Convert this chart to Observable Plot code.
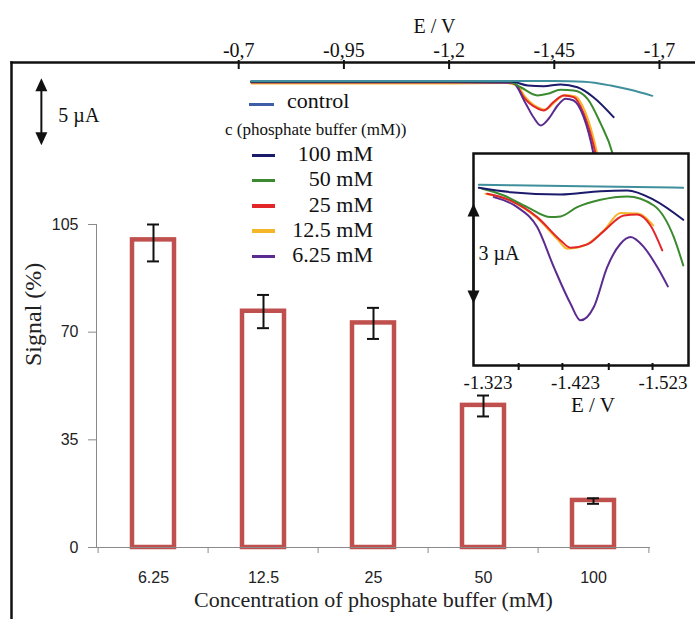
<!DOCTYPE html>
<html><head><meta charset="utf-8">
<script src="https://cdn.jsdelivr.net/npm/d3@7"></script>
<script src="https://cdn.jsdelivr.net/npm/@observablehq/plot@0.6"></script>
<style>
body{margin:0;background:#fff;}
#fig{position:relative;width:695px;height:619px;overflow:hidden;background:#fff;}
#fig > svg{position:absolute;left:0;top:0;}
.lg{position:absolute;font-family:"Liberation Serif",serif;color:#111;white-space:nowrap;}
.mk{position:absolute;height:3px;}
</style></head><body><div id="fig"></div>
<script>
// ---------- bar chart data ----------
const categories = ["6.25", "12.5", "25", "50", "100"];
const signal     = [100, 76.8, 73.0, 46.2, 15.3];
const signalLow  = [93, 71.3, 67.8, 42.6, 14.2];
const signalHigh = [105, 82.1, 77.9, 49.4, 16.0];
const signalTicks = [0, 35, 70, 105];

// ---------- voltammogram series ----------
const seriesNames  = ["control", "100 mM", "50 mM", "25 mM", "12.5 mM", "6.25 mM"];
const curveColors  = ["#3f8f9c", "#1b1a6b", "#3b8a2f", "#e3262a", "#f6b62a", "#5b2b8f"];
const legendColors = ["#3e5ca8", "#1b1a6b", "#3b8a2f", "#e3262a", "#f6b62a", "#5b2b8f"];
const drawOrder = ["12.5 mM", "25 mM", "6.25 mM", "50 mM", "100 mM", "control"];

const topTickE = [-0.7, -0.95, -1.2, -1.45, -1.7];
const topTickLabels = ["-0,7", "-0,95", "-1,2", "-1,45", "-1,7"];
const insetTickE = [-1.358, -1.408, -1.461, -1.511];
const insetLabelE = [-1.323, -1.423, -1.523];
const insetLabels = ["-1.323", "-1.423", "-1.523"];

const scaleBarMainE = -0.231;           // V
const scaleBarMain = [0.25, -4.75];     // µA (5 µA)
const scaleBarInsetE = -1.3064;         // V
const scaleBarInset = [-0.48, -3.48];   // µA (3 µA)

// overview curves [E (V), I (µA)]
const ovControl = [[-0.73,0.04],[-1.2,0.04],[-1.45,0.03],[-1.52,-0.02],[-1.584,-0.3],[-1.631,-0.62],[-1.683,-1.07]];
const ov100 = [[-0.73,0],[-1.2,0],[-1.346,0],[-1.387,-0.30],[-1.425,-0.35],[-1.465,-0.22],[-1.505,-0.43],[-1.543,-1.17],[-1.591,-2.66]];
const ov50 = [[-0.73,0],[-1.2,0],[-1.34,0],[-1.370,-0.43],[-1.410,-1.04],[-1.434,-0.92],[-1.465,-0.62],[-1.496,-0.67],[-1.529,-1.29],[-1.56,-3.13],[-1.5885,-5.37],[-1.607,-8.1]];
const ov25 = [[-0.73,-0.05],[-1.2,-0.05],[-1.335,-0.05],[-1.358,-0.22],[-1.377,-1.17],[-1.41,-2.01],[-1.425,-2.16],[-1.448,-1.54],[-1.472,-1.04],[-1.496,-1.17],[-1.52,-2.39],[-1.548,-5.37],[-1.565,-8.1]];
const ov12 = [[-0.73,-0.14],[-1.2,-0.14],[-1.337,-0.12],[-1.362,-0.3],[-1.381,-1.15],[-1.414,-1.98],[-1.429,-2.1],[-1.452,-1.5],[-1.476,-1.0],[-1.5,-1.12],[-1.524,-2.3],[-1.552,-5.37],[-1.569,-8.1]];
const ov6 = [[-0.73,-0.05],[-1.2,-0.05],[-1.351,-0.1],[-1.382,-1.64],[-1.401,-2.69],[-1.418,-3.28],[-1.437,-2.76],[-1.458,-1.79],[-1.477,-1.29],[-1.496,-1.42],[-1.52,-2.66],[-1.543,-5.37],[-1.558,-8.1]];

// inset curves [E (V), I (µA)]
const inControl = [[-1.3125,0.08],[-1.43,0.04],[-1.546,-0.01]];
const in100 = [[-1.3125,-0.01],[-1.3487,-0.14],[-1.4059,-0.21],[-1.4516,-0.11],[-1.4821,-0.09],[-1.5125,-0.37],[-1.5461,-0.97]];
const in50 = [[-1.3164,-0.04],[-1.3411,-0.24],[-1.3678,-0.59],[-1.3944,-0.89],[-1.4059,-0.87],[-1.4249,-0.59],[-1.4516,-0.37],[-1.4821,-0.27],[-1.5125,-0.54],[-1.5353,-1.49],[-1.5461,-2.34]];
const in25 = [[-1.3221,-0.19],[-1.3487,-0.39],[-1.3792,-0.89],[-1.4059,-1.59],[-1.4173,-1.81],[-1.4364,-1.71],[-1.4553,-1.31],[-1.4782,-0.84],[-1.4935,-0.81],[-1.5087,-1.14],[-1.5221,-1.89]];
const in12 = [[-1.3201,-0.19],[-1.3487,-0.40],[-1.3792,-0.92],[-1.4021,-1.55],[-1.4135,-1.84],[-1.4325,-1.75],[-1.4553,-1.29],[-1.4744,-0.77],[-1.4935,-0.78],[-1.5118,-1.14]];
const in6 = [[-1.3296,-0.29],[-1.3564,-0.59],[-1.3792,-1.19],[-1.3982,-2.39],[-1.4173,-3.49],[-1.4287,-3.99],[-1.4439,-3.59],[-1.4592,-2.39],[-1.4744,-1.69],[-1.4859,-1.49],[-1.5011,-1.79],[-1.5164,-2.39],[-1.5285,-2.97]];

// ---------- build tables ----------
const ovBySeries = {"control": ovControl, "100 mM": ov100, "50 mM": ov50, "25 mM": ov25, "12.5 mM": ov12, "6.25 mM": ov6};
const inBySeries = {"control": inControl, "100 mM": in100, "50 mM": in50, "25 mM": in25, "12.5 mM": in12, "6.25 mM": in6};
const toRows = (m) => drawOrder.flatMap(s => m[s].map(([E, I]) => ({series: s, E, I})));
const overview = toRows(ovBySeries);
const inset = toRows(inBySeries);
const bars = categories.map((c, i) => ({cat: c, value: signal[i], low: signalLow[i], high: signalHigh[i]}));

const serif = "Liberation Serif, Times New Roman, serif";
const sans = "Liberation Sans, Arial, sans-serif";
const barColor = "#c0504d";
const axisGray = "#8a8a8a";
const W = 695, H = 619;

const triUp = {draw(c) { c.moveTo(0, 0); c.lineTo(6, 13); c.lineTo(-6, 13); c.closePath(); }};
const triDown = {draw(c) { c.moveTo(0, 0); c.lineTo(6, -13); c.lineTo(-6, -13); c.closePath(); }};

// ---------- bar chart ----------
const bm = {l: 96, r: 45, t: 224, b: 72};
const step = (W - bm.l - bm.r) / categories.length;
const barPlot = Plot.plot({
  width: W, height: H, marginLeft: bm.l, marginRight: bm.r, marginTop: bm.t, marginBottom: bm.b,
  x: {domain: categories, padding: 0, axis: null},
  y: {domain: [0, 105], axis: null},
  marks: [
    Plot.barY(bars, {x: "cat", y: "value", fill: "white", stroke: barColor, strokeWidth: 4.5, insetLeft: 34, insetRight: 34}),
    Plot.frame({anchor: "left", stroke: axisGray}),
    Plot.ruleY([0], {stroke: axisGray}),
    Plot.axisY({ticks: signalTicks, tickSize: 8, tickFormat: () => "", stroke: axisGray, label: null}),
    Plot.axisY({ticks: signalTicks, tickSize: 0, tickPadding: 18, fontSize: 16, fontFamily: sans, fill: "#222", label: null}),
    Plot.axisX({tickSize: 6, tickFormat: () => "", dx: -step / 2, stroke: axisGray, label: null}),
    Plot.axisX({ticks: [categories[categories.length - 1]], tickSize: 6, tickFormat: () => "", dx: step / 2, stroke: axisGray, label: null}),
    Plot.axisX({tickSize: 0, tickPadding: 24, fontSize: 16, fontFamily: sans, fill: "#222", label: null}),
    Plot.ruleX(bars, {x: "cat", y1: "low", y2: "high", stroke: "#111", strokeWidth: 2}),
    Plot.tickY(bars, {x: "cat", y: "low", insetLeft: 49, insetRight: 49, stroke: "#111", strokeWidth: 2}),
    Plot.tickY(bars, {x: "cat", y: "high", insetLeft: 49, insetRight: 49, stroke: "#111", strokeWidth: 2}),
    Plot.text(["Signal (%)"], {frameAnchor: "left", rotate: -90, dx: -63, dy: -20, fontSize: 24, fontFamily: serif, fill: "#222"}),
    Plot.text(["Concentration of phosphate buffer (mM)"], {frameAnchor: "bottom", dy: 59, fontSize: 22, fontFamily: serif, fill: "#222"})
  ]
});

// ---------- overview voltammograms ----------
const topPlot = Plot.plot({
  width: W, height: H, marginTop: 62, marginLeft: 11, marginRight: 0, marginBottom: 0,
  style: {background: "transparent", overflow: "visible"},
  x: {domain: [-0.16, -1.7856], axis: null},
  y: {domain: [-40.15, 1.418], axis: null},
  color: {domain: seriesNames, range: curveColors},
  marks: [
    Plot.line(overview, {x: "E", y: "I", z: "series", stroke: "series", curve: "monotone-x", strokeWidth: 2}),
    Plot.frame({anchor: "top", stroke: "#111", strokeWidth: 2.5}),
    Plot.frame({anchor: "left", stroke: "#111", strokeWidth: 2.5}),
    Plot.tickX(topTickE, {x: d => d, insetTop: -2, insetBottom: H - 62 - 7, stroke: "#111", strokeWidth: 2}),
    Plot.axisX({anchor: "top", ticks: topTickE, tickFormat: d => topTickLabels[topTickE.indexOf(d)], tickSize: 0, tickPadding: 6, fontSize: 20, fontFamily: serif, fill: "#111", label: null}),
    Plot.text(["E / V"], {frameAnchor: "top", dx: 81, dy: -44, fontSize: 20, fontFamily: serif, fill: "#111"}),
    Plot.ruleX([scaleBarMainE], {x: d => d, y1: scaleBarMain[0], y2: scaleBarMain[1], stroke: "#111", strokeWidth: 2, insetTop: 6, insetBottom: 6}),
    Plot.dot([scaleBarMain[0]], {x: scaleBarMainE, y: d => d, symbol: triUp, r: 5, fill: "#111", stroke: "none"}),
    Plot.dot([scaleBarMain[1]], {x: scaleBarMainE, y: d => d, symbol: triDown, r: 5, fill: "#111", stroke: "none"}),
    Plot.text(["5 µA"], {x: scaleBarMainE, y: (scaleBarMain[0] + scaleBarMain[1]) / 2, dx: 17, dy: 4, textAnchor: "start", fontSize: 20, fontFamily: serif, fill: "#111"})
  ]
});

// ---------- inset ----------
const insetPlot = Plot.plot({
  width: W, height: H, marginLeft: 473, marginRight: 7, marginTop: 153, marginBottom: 254,
  style: {background: "transparent", overflow: "visible"},
  x: {domain: [-1.3064, -1.5521], axis: null},
  y: {domain: [-5.345, 1.02], axis: null},
  color: {domain: seriesNames, range: curveColors},
  marks: [
    Plot.frame({fill: "white", stroke: "none"}),
    Plot.line(inset, {x: "E", y: "I", z: "series", stroke: "series", curve: "monotone-x", strokeWidth: 2}),
    Plot.frame({stroke: "#111", strokeWidth: 2.5}),
    Plot.tickX(insetTickE, {x: d => d, insetTop: 210, insetBottom: -5, stroke: "#111", strokeWidth: 2}),
    Plot.axisX({ticks: insetLabelE, tickSize: 0, tickPadding: 10, tickFormat: d => insetLabels[insetLabelE.indexOf(d)], fontSize: 19, fontFamily: serif, fill: "#111", label: null}),
    Plot.text(["E / V"], {frameAnchor: "bottom", dx: 12, dy: 46, fontSize: 21, fontFamily: serif, fill: "#111"}),
    Plot.ruleX([scaleBarInsetE], {x: d => d, y1: scaleBarInset[0], y2: scaleBarInset[1], stroke: "#111", strokeWidth: 2, insetTop: 6, insetBottom: 6}),
    Plot.dot([scaleBarInset[0]], {x: scaleBarInsetE, y: d => d, symbol: triUp, r: 5, fill: "#111", stroke: "none"}),
    Plot.dot([scaleBarInset[1]], {x: scaleBarInsetE, y: d => d, symbol: triDown, r: 5, fill: "#111", stroke: "none"}),
    Plot.text(["3 µA"], {x: scaleBarInsetE, y: (scaleBarInset[0] + scaleBarInset[1]) / 2, dx: 5, textAnchor: "start", fontSize: 20, fontFamily: serif, fill: "#111"})
  ]
});

const fig = document.getElementById("fig");
fig.append(barPlot, topPlot, insetPlot);

// ---------- legend ----------
function addText(txt, css) { const d = document.createElement("div"); d.className = "lg"; d.textContent = txt; Object.assign(d.style, css); fig.append(d); }
function addMark(color, css) { const d = document.createElement("div"); d.className = "mk"; d.style.background = color; Object.assign(d.style, css); fig.append(d); }
addMark(legendColors[0], {left: "249px", top: "103px", width: "25px"});
addText(seriesNames[0], {left: "287px", top: "89px", fontSize: "22px", lineHeight: "24px"});
addText("c (phosphate buffer (mM))", {left: "225px", top: "120px", fontSize: "17px", lineHeight: "20px"});
seriesNames.slice(1).forEach((name, i) => {
  const cy = 154 + i * 25.25;
  addMark(legendColors[i + 1], {left: "252px", top: (cy - 0.5) + "px", width: "23px", height: "3.5px"});
  addText(name, {right: "322px", top: (cy - 12) + "px", fontSize: "22px", lineHeight: "24px", textAlign: "right"});
});
</script></body></html>
